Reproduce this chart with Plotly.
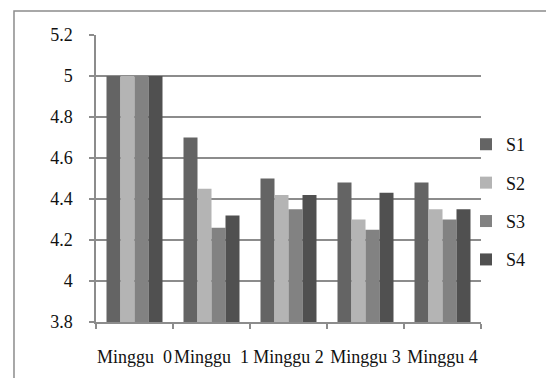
import plotly.graph_objects as go

NBSP = "\u00a0"
categories = [f"Minggu{NBSP}{NBSP}0", f"Minggu{NBSP}{NBSP}1", "Minggu 2", "Minggu 3", "Minggu 4"]
series_names = ["S1", "S2", "S3", "S4"]
s1 = [5.0, 4.70, 4.50, 4.48, 4.48]
s2 = [5.0, 4.45, 4.42, 4.30, 4.35]
s3 = [5.0, 4.26, 4.35, 4.25, 4.30]
s4 = [5.0, 4.32, 4.42, 4.43, 4.35]
y_ticks = [3.8, 4.0, 4.2, 4.4, 4.6, 4.8, 5.0, 5.2]
y_tick_text = ["3.8", "4", "4.2", "4.4", "4.6", "4.8", "5", "5.2"]

colors = ["#646464", "#b4b4b4", "#828282", "#505050"]
font = dict(family="Liberation Serif", size=18, color="#111111")

fig = go.Figure()
for i, (name, vals) in enumerate(zip(series_names, [s1, s2, s3, s4])):
    fig.add_trace(go.Bar(
        x=categories, y=vals, name=name,
        marker=dict(color=colors[i], line=dict(width=0)),
        legendgroup=name,
    ))

# outer chart frame
fig.add_shape(type="rect", xref="paper", yref="paper",
              x0=-0.213, x1=1.4, y0=-0.6, y1=1.0836,
              line=dict(color="#8c8c8c", width=1.5), fillcolor="rgba(0,0,0,0)",
              layer="below")

fig.update_layout(
    width=546, height=378,
    margin=dict(l=96, r=65, t=35, b=56, autoexpand=False),
    paper_bgcolor="white", plot_bgcolor="white",
    font=font,
    barmode="group",
    bargap=1.5 / 5.5,
    bargroupgap=0,
    showlegend=True,
    legend=dict(xref="container", x=466 / 546, y=0.418, xanchor="left", yanchor="middle",
                font=font, tracegroupgap=12, itemwidth=30, bgcolor="rgba(0,0,0,0)"),
    xaxis=dict(
        type="category", showgrid=False, showline=True,
        linecolor="#8c8c8c", linewidth=1.5,
        ticks="outside", tickson="boundaries", ticklen=5, tickcolor="#8c8c8c",
        tickwidth=1.5, tickfont=font,
        fixedrange=True, ticklabelstandoff=18, tickangle=0,
    ),
    yaxis=dict(
        range=[3.8, 5.2], tickvals=y_ticks, ticktext=y_tick_text,
        showgrid=True, gridcolor="#8c8c8c", gridwidth=1.5,
        showline=True, linecolor="#8c8c8c", linewidth=1.5,
        ticks="outside", ticklen=5, tickcolor="#8c8c8c", tickwidth=1.5,
        tickfont=font, zeroline=False, ticklabelstandoff=13,
    ),
)

fig.write_html("out.html")
